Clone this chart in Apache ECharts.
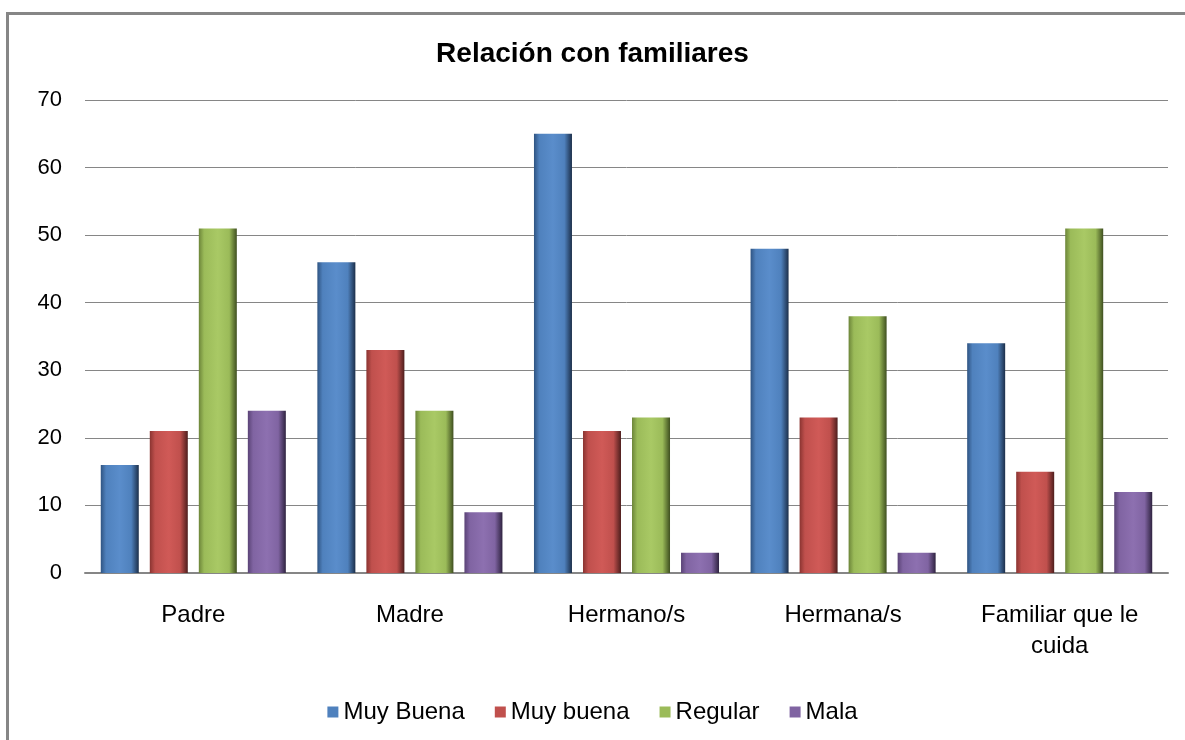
<!DOCTYPE html>
<html>
<head>
<meta charset="utf-8">
<script src="https://cdn.jsdelivr.net/npm/echarts@6/dist/echarts.min.js"></script>
<style>
  html, body { margin: 0; padding: 0; background: #fff; }
  #frame {
    position: absolute; left: 6px; top: 12px; width: 1200px; height: 760px;
    border-left: 3px solid #868686; border-top: 3px solid #868686;
  }
  #chart { position: absolute; left: 0; top: 0; width: 1185px; height: 740px; }
</style>
</head>
<body>
<div id="frame"></div>
<div id="chart"></div>
<script>
// datos
const categorias = ['Padre', 'Madre', 'Hermano/s', 'Hermana/s', 'Familiar que le\ncuida'];
const nombresSeries = ['Muy Buena', 'Muy buena', 'Regular', 'Mala'];
const muyBuena1 = [16, 46, 65, 48, 34];
const muyBuena2 = [21, 33, 21, 23, 15];
const regular = [51, 24, 23, 38, 51];
const mala = [24, 9, 3, 3, 12];
const ticksY = [0, 10, 20, 30, 40, 50, 60, 70];

const colores = [
    ['#2f5482', '#4f81bd', '#5a8dcb', '#1c2f4a'],
    ['#8a3431', '#c0504d', '#d05a57', '#4e1e1d'],
    ['#6c8539', '#9bbb59', '#a9c965', '#3f4f20'],
    ['#5a4376', '#8064a2', '#8d70b0', '#2f2340']
];

function barra(c) {
    return new echarts.graphic.LinearGradient(0, 0, 1, 0, [
        { offset: 0, color: c[0] },
        { offset: 0.14, color: c[1] },
        { offset: 0.5, color: c[2] },
        { offset: 0.8, color: c[1] },
        { offset: 1, color: c[3] }
    ]);
}

window.addEventListener('DOMContentLoaded', function() {
    const myChart = echarts.init(document.getElementById('chart'));
    const valores = [muyBuena1, muyBuena2, regular, mala];

    const option = {
        animation: false,
        title: {
            text: 'Relación con familiares',
            left: 'center',
            top: 35,
            textStyle: { fontFamily: 'Liberation Sans', fontSize: 28, fontWeight: 'bold', color: '#000' }
        },
        legend: {
            data: nombresSeries.map(function(n, i) {
                return { name: n, itemStyle: { color: colores[i][1] } };
            }),
            bottom: 11,
            left: 'center',
            icon: 'rect',
            itemWidth: 11,
            itemHeight: 11,
            itemGap: 30,
            textStyle: { fontFamily: 'Liberation Sans', fontSize: 24, color: '#000' }
        },
        grid: { left: 85, right: 17, top: 100, bottom: 167 },
        xAxis: {
            type: 'category',
            data: categorias,
            axisLine: { lineStyle: { color: '#868686', width: 2 } },
            axisTick: { show: false },
            axisLabel: {
                fontFamily: 'Liberation Sans', fontSize: 24, color: '#000',
                margin: 27, lineHeight: 31, interval: 0
            }
        },
        yAxis: {
            type: 'value',
            min: ticksY[0],
            max: ticksY[ticksY.length - 1],
            interval: 10,
            axisLine: { show: false },
            axisTick: { show: false },
            axisLabel: { fontFamily: 'Liberation Sans', fontSize: 22, color: '#000', margin: 23 },
            splitLine: { lineStyle: { color: '#868686', width: 1 } }
        },
        series: nombresSeries.map(function(nombre, i) {
            return {
                name: nombre,
                type: 'bar',
                data: valores[i],
                barWidth: 38,
                barGap: '29%',
                itemStyle: { color: barra(colores[i]) }
            };
        })
    };

    myChart.setOption(option);
});
</script>
</body>
</html>
